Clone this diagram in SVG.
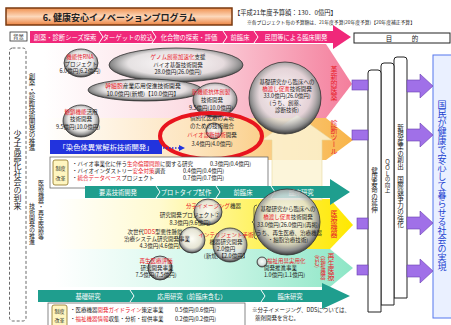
<svg xmlns="http://www.w3.org/2000/svg" width="451" height="325" viewBox="0 0 451 325">
<defs>
<style>
text{font-family:"Noto Sans CJK JP","Noto Sans",sans-serif;fill:#222}
.s{font-size:5.5px}
.m{font-size:6.5px}
.r{fill:#e8202a}
.w{fill:#fff}
.v{writing-mode:vertical-rl}
.bub{fill:url(#bub);stroke:#333;stroke-width:0.8}
.pur{fill:#a070e8;stroke:#6a40b0;stroke-width:0.6}
.col{fill:#fff;stroke:#222;stroke-width:1}
.sep{fill:none;stroke:#fff;stroke-width:1}
</style>
<linearGradient id="title" x1="0" y1="0" x2="0" y2="1"><stop offset="0" stop-color="#f0904f"/><stop offset="0.5" stop-color="#fcd8bb"/><stop offset="1" stop-color="#ec8442"/></linearGradient>
<linearGradient id="pink" x1="0" y1="0" x2="1" y2="0"><stop offset="0" stop-color="#fff"/><stop offset="0.45" stop-color="#fcdde4"/><stop offset="1" stop-color="#f47e9c"/></linearGradient>
<linearGradient id="orange" x1="0" y1="0" x2="1" y2="0"><stop offset="0" stop-color="#fff"/><stop offset="0.5" stop-color="#fde3bb"/><stop offset="1" stop-color="#f8b448"/></linearGradient>
<linearGradient id="yellow" x1="0" y1="0" x2="1" y2="0"><stop offset="0" stop-color="#fff"/><stop offset="0.35" stop-color="#fffad0"/><stop offset="0.65" stop-color="#fff36a"/><stop offset="1" stop-color="#ffe800"/></linearGradient>
<linearGradient id="green" x1="0" y1="0" x2="1" y2="0"><stop offset="0" stop-color="#fff"/><stop offset="0.5" stop-color="#d2f7ea"/><stop offset="1" stop-color="#8de6c6"/></linearGradient>
<radialGradient id="bub" cx="0.5" cy="0.45" r="0.55"><stop offset="0" stop-color="#fff" stop-opacity="0.9"/><stop offset="0.65" stop-color="#e0e0e0" stop-opacity="0.8"/><stop offset="0.88" stop-color="#8a8a8a"/><stop offset="1" stop-color="#3a3a3a"/></radialGradient>
<marker id="bl" markerWidth="6" markerHeight="6" refX="5" refY="3" orient="auto" markerUnits="userSpaceOnUse"><path d="M0,0 L6,3 L0,6 z" fill="#2233dd"/></marker>
</defs>
<rect width="451" height="325" fill="#fff"/>

<g id="title-bar">
<rect x="6" y="8" width="226" height="17" fill="url(#title)" stroke="#7a3a10" stroke-width="1.5"/>
<text x="119.5" y="20.5" font-size="9" font-weight="bold" text-anchor="middle">6. 健康安心イノベーションプログラム</text>
</g>
<g id="budget">
<text x="234" y="15" font-size="6.3">【平成21年度予算額：130．0億円】</text>
<text x="247" y="24" font-size="4.8">※各プロジェクト毎の予算額は、21年度予算(20年度予算)【20年度補正予算】</text>
</g>

<g id="bg-label">
<rect x="10" y="32" width="17" height="9" fill="#fff" stroke="#333" stroke-width="0.8"/>
<text x="18.5" y="39" font-size="5.5" text-anchor="middle">背景</text>
</g>

<g id="regions">
<polygon points="44,44 326,44 352,84 326,118 44,118" fill="url(#pink)"/>
<polygon points="44,118 326,118 353,140 326,160 44,160" fill="url(#orange)"/>
<polygon points="55,199 330,199 353,225 330,249 55,249" fill="url(#yellow)"/>
<polygon points="55,249 330,249 353,268 330,287 55,287" fill="url(#green)"/>
<polygon points="272,200 272,140 262,140 297,115 332,140 322,140 322,200" fill="#fbf3d4" fill-opacity="0.85" stroke="#e6d9a0" stroke-width="0.6"/>
</g>

<g id="pink-bar">
<polygon points="30,31 333,31 333,25 351,37 333,49 333,43 30,43" fill="#f0287a"/>
<polyline class="sep" points="99,31 103,37 99,43"/>
<polyline class="sep" points="152,31 156,37 152,43"/>
<polyline class="sep" points="223,31 227,37 223,43"/>
<polyline class="sep" points="254,31 258,37 254,43"/>
<text class="w" x="65" y="39.5" font-size="6.3" text-anchor="middle">創薬・診断シーズ探索</text>
<text class="w" x="128" y="39.5" font-size="6.3" text-anchor="middle">ターゲットの絞込</text>
<text class="w" x="189" y="39.5" font-size="6.3" text-anchor="middle">化合物の探索・評価</text>
<text class="w" x="240" y="39.5" font-size="6.3" text-anchor="middle">前臨床</text>
<text class="w" x="296" y="39.5" font-size="6.3" text-anchor="middle">民間等による臨床開発</text>
</g>

<g id="aims-header">
<rect x="354" y="33" width="96" height="10" fill="#fff" stroke="#222" stroke-width="1"/>
<text x="402" y="40.5" font-size="6.5" text-anchor="middle">目　　　的</text>
</g>

<g id="background-box">
<rect x="9.5" y="48" width="16.5" height="273" rx="3" fill="none" stroke="#444" stroke-width="0.8" stroke-dasharray="3,2"/>
<text class="v" x="17.5" y="130" font-size="8">少子高齢化社会の到来</text>
</g>
<g id="policy-labels">
<text class="v" x="32" y="73" font-size="6.5">創薬・診断技術開発の推進</text>
<text class="v" x="41" y="180" font-size="6">医療機器・再生医療等</text>
<text class="v" x="32" y="203" font-size="6">技術開発の推進</text>
</g>

<g id="ellipse-genome">
<ellipse class="bub" cx="176" cy="65" rx="67" ry="17"/>
<text class="s" x="178" y="59" text-anchor="middle"><tspan class="r">ゲノム創薬加速化</tspan>支援</text>
<text class="s" x="178" y="66.5" text-anchor="middle">バイオ基盤技術開発</text>
<text class="s" x="178" y="74" text-anchor="middle">28.0億円(26.0億円)</text>
</g>
<g id="ellipse-stemcell">
<ellipse class="bub" cx="145" cy="90" rx="57" ry="11"/>
<text x="143" y="88" font-size="5.8" text-anchor="middle"><tspan class="r">幹細胞</tspan>産業応用促進技術開発</text>
<text x="143" y="95.5" font-size="5.8" text-anchor="middle">10.0億円(新規)【10.0億円】</text>
</g>
<g id="bubble-rna">
<ellipse class="bub" cx="81" cy="63" rx="17" ry="14"/>
<text class="s r" x="80" y="58.5" text-anchor="middle">機能性RNA</text>
<text class="s" x="81" y="65.5" text-anchor="middle">プロジェクト</text>
<text class="s" x="80" y="73" text-anchor="middle">6.0億円(6.2億円)</text>
</g>
<g id="bubble-glyco">
<ellipse class="bub" cx="81" cy="121" rx="18" ry="16"/>
<text class="s" x="81" y="113.5" text-anchor="middle"><tspan class="r">糖鎖機能</tspan>活用</text>
<text class="s" x="81" y="121" text-anchor="middle">技術開発</text>
<text class="s" x="78" y="128.5" text-anchor="middle">9.5億円(10.0億円)</text>
</g>
<g id="bubble-antibody">
<ellipse class="bub" cx="215" cy="100" rx="22" ry="17"/>
<text class="s r" x="211" y="94" text-anchor="middle">新機能抗体創製</text>
<text class="s" x="212" y="102" text-anchor="middle">技術開発</text>
<text class="s" x="211" y="110" text-anchor="middle">9.5億円(10.0億円)</text>
</g>
<g id="bubble-bridge-drug">
<circle class="bub" cx="285" cy="98" r="36"/>
<text class="s" x="287" y="84" text-anchor="middle">基礎研究から臨床への</text>
<text class="s" x="287" y="91" text-anchor="middle"><tspan class="r">橋渡し促進</tspan>技術開発</text>
<text class="s" x="287" y="98" text-anchor="middle">33.0億円(26.0億円)</text>
<text class="s" x="287" y="105" text-anchor="middle">(うち、創薬、</text>
<text class="s" x="287" y="112" text-anchor="middle">診断技術)</text>
</g>

<g id="chromosome-banner">
<rect x="50" y="140" width="112" height="14" fill="#2233dd"/>
<text class="w" x="106" y="150" font-size="7.3" text-anchor="middle">「染色体異常解析技術開発」</text>
</g>
<g id="bubble-diagnosis">
<circle class="bub" cx="214" cy="131" r="8"/>
<text class="s" x="212" y="120" text-anchor="middle">個別化医療の実現</text>
<text class="s" x="212" y="128" text-anchor="middle">のための技術融合</text>
<text class="s" x="212" y="137" text-anchor="middle"><tspan class="r">バイオ診断技術</tspan>開発</text>
<text class="s" x="212" y="146" text-anchor="middle">3.4億円(4.0億円)</text>
<ellipse cx="211" cy="136" rx="51" ry="23" fill="none" stroke="#e8141e" stroke-width="4"/>
</g>

<g id="pink-label"><text class="v r" x="334" y="66" font-size="7">革新的医薬</text></g>
<g id="orange-label"><text class="v r" x="334" y="120" font-size="7">診断ツール</text></g>

<g id="list-bio">
<rect x="50" y="157" width="218" height="31" fill="#fff" stroke="#555" stroke-width="0.7"/>
<rect x="53" y="160" width="15" height="25" rx="2" fill="#fff6c0" stroke="#8a7020" stroke-width="0.8"/>
<text x="60.5" y="170" font-size="5" text-anchor="middle">制度</text>
<text x="60.5" y="180" font-size="5" text-anchor="middle">改革</text>
<text class="s" x="72" y="166">・バイオ事業化に伴う<tspan class="r">生命倫理問題</tspan>に関する研究</text>
<text class="s" x="210" y="166">0.3億円(0.4億円)</text>
<text class="s" x="72" y="173">・バイオインダストリー<tspan class="r">安全対策</tspan>調査</text>
<text class="s" x="183" y="173">0.4億円(0.4億円)</text>
<text class="s" x="72" y="180">・<tspan class="r">統合データベース</tspan>プロジェクト</text>
<text class="s" x="183" y="180">0.7億円(0.7億円)</text>
</g>

<g id="teal-bar-mid">
<polygon points="85,186 330,186 330,179 350,192 330,205 330,198 85,198" fill="#1f9e8e"/>
<polyline class="sep" points="156,186 160,192 156,198"/>
<polyline class="sep" points="216,186 220,192 216,198"/>
<polyline class="sep" points="271,186 275,192 271,198"/>
<text class="w" x="118" y="194.5" font-size="6.3" text-anchor="middle">要素技術開発</text>
<text class="w" x="186" y="194.5" font-size="6.3" text-anchor="middle">プロトタイプ試作</text>
<text class="w" x="243" y="194.5" font-size="6.3" text-anchor="middle">前臨床</text>
<text class="w" x="301" y="194.5" font-size="6.3" text-anchor="middle">臨床研究</text>
</g>

<g id="yellow-label"><text class="v r" x="334" y="210" font-size="7">医療機器</text></g>
<g id="green-label">
<text class="v r" x="331" y="253" font-size="7">再生医療</text>
<text class="v r" x="323" y="256" font-size="5.5">(福祉機器</text>
<text class="v r" x="317" y="255" font-size="5.5">含む)</text>
</g>

<g id="bubble-imaging">
<ellipse class="bub" cx="208" cy="212" rx="14" ry="13"/>
<text class="s" x="186" y="208"><tspan class="r">分子イメージング</tspan>機器</text>
<text class="s" x="190" y="216.5" text-anchor="middle">研究開発プロジェクト②</text>
<text class="s" x="190" y="225" text-anchor="middle">8.3億円(9.6億円)</text>
</g>
<g id="bubble-dds">
<circle class="bub" cx="192" cy="240" r="13"/>
<text class="s" x="155" y="234" text-anchor="middle">次世代<tspan class="r">DDS</tspan>型悪性腫瘍</text>
<text class="s" x="157" y="241" text-anchor="middle">治療システム研究開発事業</text>
<text class="s" x="160" y="248" text-anchor="middle">4.3億円(4.6億円)</text>
</g>
<g id="bubble-surgery">
<circle class="bub" cx="230" cy="245" r="17"/>
<text class="s r" x="226" y="237" text-anchor="middle">インテリジェント手術</text>
<text class="s" x="226" y="244" text-anchor="middle">機器研究開発</text>
<text class="s" x="226" y="251" text-anchor="middle">2.0億円</text>
<text class="s" x="226" y="258" text-anchor="middle">(新規)【2.0億円】</text>
</g>
<g id="bubble-bridge-device">
<circle class="bub" cx="287" cy="222" r="33"/>
<text class="s" x="288" y="211" text-anchor="middle">基礎研究から臨床への</text>
<text class="s" x="288" y="219" text-anchor="middle"><tspan class="r">橋渡し促進</tspan>技術開発</text>
<text class="s" x="288" y="227" text-anchor="middle">33.0億円(26.0億円)(再掲)</text>
<text class="s" x="288" y="235" text-anchor="middle">(うち、再生医療、治療機器</text>
<text class="s" x="288" y="242" text-anchor="middle">・細胞治療技術)</text>
<path d="M257,205 q-3,0 -3,3 v10 q0,3 -2,4 q2,1 2,4 v10 q0,3 3,3" fill="none" stroke="#333" stroke-width="0.7"/>
</g>
<g id="bubble-regen">
<circle class="bub" cx="160" cy="268" r="12"/>
<text class="s r" x="156" y="263" text-anchor="middle">再生医療評価</text>
<text class="s" x="157" y="270" text-anchor="middle">研究開発事業</text>
<text class="s" x="156" y="277" text-anchor="middle">7.5億円(7.5億円)</text>
</g>
<g id="bubble-welfare">
<circle class="bub" cx="262" cy="262" r="5"/>
<text class="s r" x="267" y="263">福祉用具実用化</text>
<text class="s" x="264" y="270">開発推進事業</text>
<text class="s" x="264" y="277">1.0億円(1.1億円)</text>
</g>

<g id="teal-bar-bottom">
<polygon points="38,290 322,290 322,283 350,296 322,309 322,302 38,302" fill="#1f9e8e"/>
<polyline class="sep" points="130,290 134,296 130,302"/>
<polyline class="sep" points="261,290 265,296 261,302"/>
<text class="w" x="88" y="298.5" font-size="6.3" text-anchor="middle">基礎研究</text>
<text class="w" x="192" y="298.5" font-size="6.3" text-anchor="middle">応用研究（前臨床含む）</text>
<text class="w" x="290" y="298.5" font-size="6.3" text-anchor="middle">臨床研究</text>
</g>

<g id="list-device">
<rect x="48" y="303" width="197" height="24" fill="#fff" stroke="#555" stroke-width="0.7"/>
<rect x="52" y="305" width="15" height="22" rx="2" fill="#fff6c0" stroke="#8a7020" stroke-width="0.8"/>
<text x="59.5" y="313" font-size="5" text-anchor="middle">制度</text>
<text x="59.5" y="322" font-size="5" text-anchor="middle">改革</text>
<text class="s" x="70" y="312">・医療機器<tspan class="r">開発ガイドライン</tspan>策定事業</text>
<text class="s" x="175" y="312">0.5億円(0.6億円)</text>
<text class="s" x="70" y="321">・<tspan class="r">福祉機器情報</tspan>収集・分析・提供事業</text>
<text class="s" x="175" y="321">0.2億円(0.2億円)</text>
</g>
<g id="note">
<text class="s" x="252" y="312">※分子イメージング、DDSについては、</text>
<text class="s" x="255" y="320">薬剤開発を含む。</text>
</g>

<g id="goal-columns">
<path class="col" d="M394,298 V60 q0,-3 3,-3 h7 q3,0 3,3 V298 z"/>
<path class="col" d="M381,305 V66 q0,-3 3,-3 h7 q3,0 3,3 V305 z"/>
<path class="col" d="M368,312 V73 q0,-3 3,-3 h7 q3,0 3,3 V312 z"/>
<text class="v" x="374.5" y="167" font-size="6.5">健康寿命の延伸</text>
<text class="v" x="387.5" y="160" font-size="5.5">ＱＯＬの向上</text>
<text class="v" x="400.5" y="124" font-size="6.5">新規産業の創出　国際競争力の強化</text>
</g>

<g id="goal-box">
<rect x="433" y="55" width="20" height="263" fill="#eaf0ff" stroke="#5577ee" stroke-width="1"/>
<text class="v" x="442" y="100" font-size="9" style="fill:#2040d0">国民が健康で安心して暮らせる社会の実現</text>
</g>

<g id="connectors">
<line x1="163" y1="148" x2="184" y2="148" stroke="#2233dd" stroke-width="1.5" stroke-dasharray="1.5,1.5" marker-end="url(#bl)"/>
<rect class="pur" x="352" y="80" width="16" height="10"/>
<rect class="pur" x="352" y="130" width="16" height="10"/>
<rect class="pur" x="357" y="218" width="11" height="11"/>
<rect class="pur" x="357" y="265" width="11" height="10"/>
<polygon class="pur" points="407,80 420,80 420,74 433,86 420,98 420,92 407,92"/>
<polygon class="pur" points="407,129 420,129 420,123 433,135 420,147 420,141 407,141"/>
<polygon class="pur" points="407,217 420,217 420,211 433,223 420,235 420,229 407,229"/>
<polygon class="pur" points="407,265 420,265 420,259 433,271 420,283 420,277 407,277"/>
</g>
</svg>
